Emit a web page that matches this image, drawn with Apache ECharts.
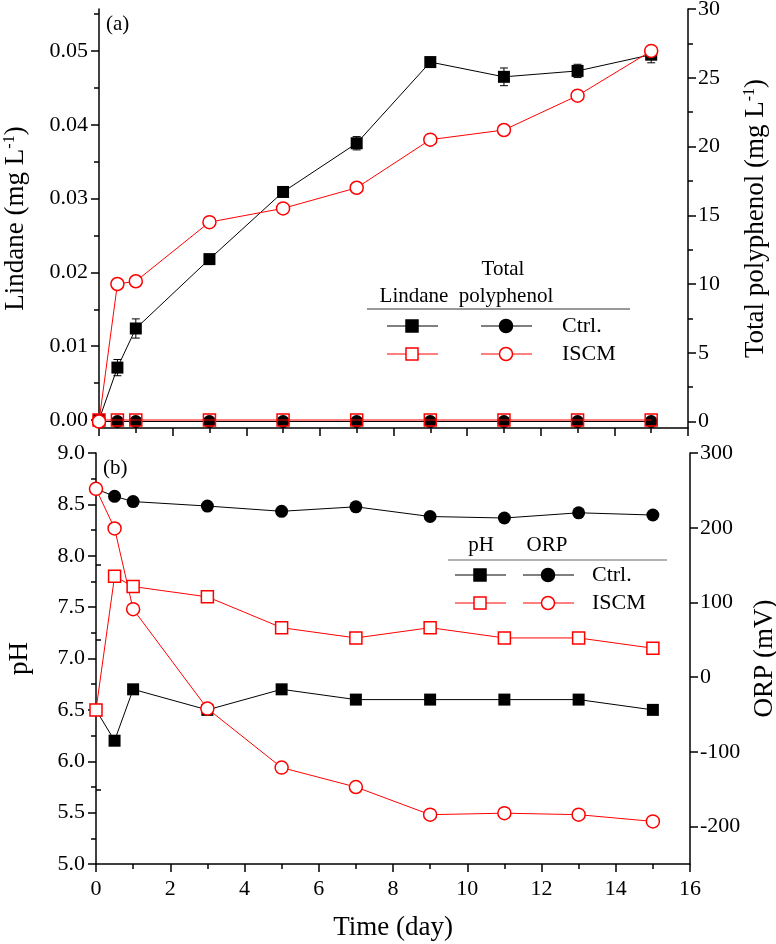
<!DOCTYPE html>
<html>
<head>
<meta charset="utf-8">
<script src="https://cdn.jsdelivr.net/npm/echarts@6/dist/echarts.min.js"></script>
<style>
html, body { margin: 0; padding: 0; background: #fff; }
#chart { width: 776px; height: 944px; }
</style>
</head>
<body>
<div id="chart"></div>
<script>
// sampling times (day)
let days = [0, 0.5, 1, 3, 5, 7, 9, 11, 13, 15];

// (a) lindane (mg/L) and total polyphenol (mg/L)
let lindaneCtrl = [0, 0.0071, 0.0124, 0.0218, 0.0309, 0.0375, 0.0485, 0.0465, 0.0473, 0.0495];
let lindaneCtrlErr = [0, 0.0011, 0.0013, 0.0004, 0.0004, 0.0009, 0.0004, 0.0012, 0.0009, 0.0011];
let lindaneIscm = [0, 0, 0, 0, 0, 0, 0, 0, 0, 0];
let polyCtrl = [0, 0, 0, 0, 0, 0, 0, 0, 0, 0];
let polyIscm = [0, 10.0, 10.2, 14.5, 15.5, 17.0, 20.5, 21.2, 23.7, 26.95];

// (b) pH and ORP (mV)
let phCtrl = [6.5, 6.2, 6.7, 6.5, 6.7, 6.6, 6.6, 6.6, 6.6, 6.5];
let phIscm = [6.5, 7.8, 7.7, 7.6, 7.3, 7.2, 7.3, 7.2, 7.2, 7.1];
let orpCtrl = [252, 242, 235, 229, 222, 228, 215, 213, 220, 217];
let orpIscm = [252, 199, 91, -42, -121, -147, -184, -182, -184, -193];

// tick values
let lindaneTicks = [0, 0.01, 0.02, 0.03, 0.04, 0.05];
let lindaneMinor = [0.005, 0.015, 0.025, 0.035, 0.045, 0.055];
let polyTicks = [0, 5, 10, 15, 20, 25, 30];
let polyMinor = [2.5, 7.5, 12.5, 17.5, 22.5, 27.5];
let orpTicks = [-200, -100, 0, 100, 200, 300];
let orpMinor = [-150, -50, 50, 150, 250];

const FONT = "'Liberation Serif', 'DejaVu Serif', serif";
const RED = '#ff0000';

function zip(ys) {
    return days.map(function(d, i) { return [d, ys[i]]; });
}

let axisLine = { show: true, onZero: false, lineStyle: { color: '#000', width: 1.5 } };

function mainY(grid, pos, min, max, ticks, fmt, gap, name, margin) {
    return {
        type: 'value', gridIndex: grid, position: pos, min: min, max: max,
        axisLine: axisLine,
        axisTick: { show: true, length: 8, customValues: ticks, lineStyle: { color: '#000', width: 1.5 } },
        axisLabel: { customValues: ticks, formatter: fmt, fontSize: 22, color: '#000', fontFamily: FONT, margin: margin },
        splitLine: { show: false },
        name: name, nameLocation: 'middle', nameGap: gap,
        nameTextStyle: {
            fontSize: 27, color: '#000', fontFamily: FONT,
            rich: {
                a: { fontSize: 27, fontFamily: FONT, color: '#000' },
                s: { fontSize: 16, fontFamily: FONT, color: '#000', verticalAlign: 'top' }
            }
        }
    };
}

function minorY(grid, pos, min, max, ticks) {
    return {
        type: 'value', gridIndex: grid, position: pos, min: min, max: max,
        axisLine: { show: false },
        axisTick: { show: true, length: 5, customValues: ticks, lineStyle: { color: '#000', width: 1.5 } },
        axisLabel: { show: false },
        splitLine: { show: false }
    };
}

function xAx(grid, showLabel, name) {
    return {
        type: 'value', gridIndex: grid, min: 0, max: 16, interval: 2,
        axisLine: axisLine,
        axisTick: { show: true, length: 8, lineStyle: { color: '#000', width: 1.5 } },
        minorTick: { show: true, splitNumber: 2, length: 5, lineStyle: { color: '#000', width: 1.5 } },
        axisLabel: { show: showLabel, fontSize: 22, color: '#000', fontFamily: FONT, margin: 14 },
        splitLine: { show: false },
        minorSplitLine: { show: false },
        name: name, nameLocation: 'middle', nameGap: 50,
        nameTextStyle: { fontSize: 27, color: '#000', fontFamily: FONT }
    };
}

function lineSeries(xi, yi, data, symbol, size, filled, color, z) {
    return {
        type: 'line', xAxisIndex: xi, yAxisIndex: yi, data: data,
        symbol: symbol, symbolSize: size, showAllSymbol: true,
        lineStyle: { color: color, width: 1 },
        itemStyle: filled ? { color: color } : { color: filled === null ? 'transparent' : '#fff', borderColor: color, borderWidth: 1.5 },
        z: z, animation: false
    };
}

let errData = days.map(function(d, i) { return [d, lindaneCtrl[i], lindaneCtrlErr[i]]; });

let chart = echarts.init(document.getElementById('chart'));

// legend pieces (drawn as graphics)
function legendRow(y, x1, x2, color, filled, label, textX) {
    let fill = filled ? color : '#fff';
    return [
        { type: 'line', shape: { x1: x1 - 25, y1: y, x2: x1 + 26, y2: y }, style: { stroke: color, lineWidth: 1 } },
        { type: 'rect', shape: { x: x1 - 6, y: y - 6, width: 12, height: 12 }, style: { fill: fill, stroke: color, lineWidth: 1.5 } },
        { type: 'line', shape: { x1: x2 - 25, y1: y, x2: x2 + 26, y2: y }, style: { stroke: color, lineWidth: 1 } },
        { type: 'circle', shape: { cx: x2, cy: y, r: 6.5 }, style: { fill: fill, stroke: color, lineWidth: 1.5 } },
        { type: 'text', x: textX, y: y, style: { text: label, font: '22px ' + FONT, fill: '#000', textVerticalAlign: 'middle' } }
    ];
}

function txt(x, y, s, size, align) {
    return { type: 'text', x: x, y: y, style: { text: s, font: size + 'px ' + FONT, fill: '#000', textAlign: align || 'center', textVerticalAlign: 'middle' } };
}

let graphics = [
    txt(106, 24, '(a)', 21, 'left'),
    txt(103, 468, '(b)', 21, 'left'),
    txt(503, 269, 'Total', 21),
    txt(414, 296, 'Lindane', 21),
    txt(506, 296, 'polyphenol', 21),
    { type: 'line', shape: { x1: 367, y1: 309, x2: 630, y2: 309 }, style: { stroke: '#333', lineWidth: 1 } },
    txt(481, 545, 'pH', 21),
    txt(547, 545, 'ORP', 21),
    { type: 'line', shape: { x1: 448, y1: 560, x2: 667, y2: 560 }, style: { stroke: '#999', lineWidth: 1.5 } }
].concat(
    legendRow(326, 412, 506, '#000', true, 'Ctrl.', 562),
    legendRow(354, 412, 506, RED, false, 'ISCM', 562),
    legendRow(575, 480, 548, '#000', true, 'Ctrl.', 592),
    legendRow(603, 480, 548, RED, false, 'ISCM', 592)
);

let option = {
    animation: false,
    textStyle: { fontFamily: FONT },
    grid: [
        { left: 99, right: 88, top: 9, height: 419, outerBoundsMode: 'none' },
        { left: 96, right: 86, top: 453, height: 411, outerBoundsMode: 'none' }
    ],
    xAxis: [xAx(0, false, ''), xAx(1, true, 'Time (day)')],
    yAxis: [
        mainY(0, 'left', -0.001084, 0.055691, lindaneTicks, function(v) { return v.toFixed(2); }, 70,
            '{a|Lindane (mg L}{s|-1}{a|)}', 11),
        minorY(0, 'left', -0.001084, 0.055691, lindaneMinor),
        mainY(0, 'right', -0.4727, 30, polyTicks, function(v) { return String(v); }, 54,
            '{a|Total polyphenol (mg L}{s|-1}{a|)}', 10),
        minorY(0, 'right', -0.4727, 30, polyMinor),
        {
            type: 'value', gridIndex: 1, position: 'left', min: 5, max: 9, interval: 0.5,
            axisLine: axisLine,
            axisTick: { show: true, length: 8, lineStyle: { color: '#000', width: 1.5 } },
            minorTick: { show: true, splitNumber: 2, length: 5, lineStyle: { color: '#000', width: 1.5 } },
            axisLabel: { formatter: function(v) { return v.toFixed(1); }, fontSize: 22, color: '#000', fontFamily: FONT, margin: 11 },
            splitLine: { show: false }, minorSplitLine: { show: false },
            name: 'pH', nameLocation: 'middle', nameGap: 63,
            nameTextStyle: { fontSize: 27, color: '#000', fontFamily: FONT }
        },
        mainY(1, 'right', -250, 300, orpTicks, function(v) { return String(v); }, 59, 'ORP (mV)', 10),
        minorY(1, 'right', -250, 300, orpMinor)
    ],
    graphic: graphics,
    series: [
        {
            type: 'custom', xAxisIndex: 0, yAxisIndex: 0, data: errData, z: 1, animation: false,
            renderItem: function(params, api) {
                let x = api.value(0), y = api.value(1), e = api.value(2);
                let top = api.coord([x, y + e]);
                let bot = api.coord([x, y - e]);
                let st = { stroke: '#000', lineWidth: 1 };
                return {
                    type: 'group',
                    children: [
                        { type: 'line', shape: { x1: top[0], y1: top[1], x2: bot[0], y2: bot[1] }, style: st },
                        { type: 'line', shape: { x1: top[0] - 4, y1: top[1], x2: top[0] + 4, y2: top[1] }, style: st },
                        { type: 'line', shape: { x1: bot[0] - 4, y1: bot[1], x2: bot[0] + 4, y2: bot[1] }, style: st }
                    ]
                };
            }
        },
        lineSeries(0, 0, zip(lindaneCtrl), 'rect', 12, true, '#000', 2),
        lineSeries(0, 2, zip(polyCtrl), 'circle', 13, true, '#000', 2),
        lineSeries(0, 0, zip(lindaneIscm), 'rect', 12, null, RED, 3),
        lineSeries(0, 2, zip(polyIscm), 'circle', 13, false, RED, 3),
        lineSeries(1, 4, zip(phCtrl), 'rect', 12, true, '#000', 2),
        lineSeries(1, 5, zip(orpCtrl), 'circle', 13, true, '#000', 2),
        lineSeries(1, 4, zip(phIscm), 'rect', 12, false, RED, 3),
        lineSeries(1, 5, zip(orpIscm), 'circle', 13, false, RED, 3)
    ]
};

chart.setOption(option);
</script>
</body>
</html>
